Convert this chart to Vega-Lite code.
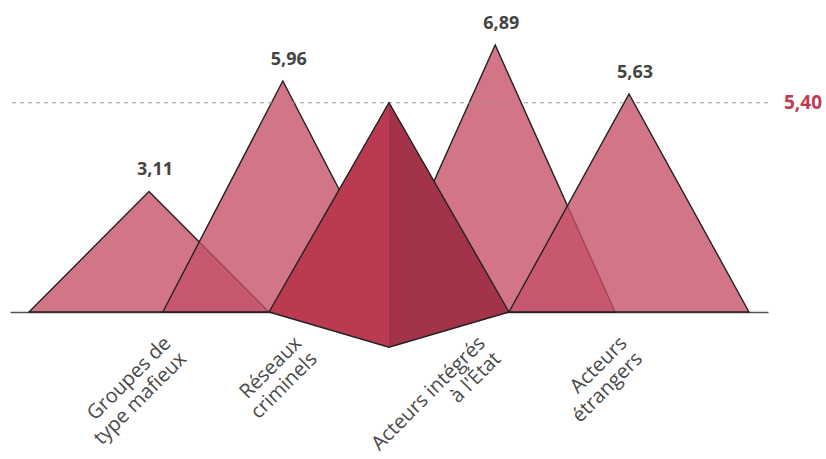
{
  "$schema": "https://vega.github.io/schema/vega-lite/v6.json",
  "autosize": {"type": "none"},
  "padding": {"left": 10, "top": 2, "right": 58, "bottom": 147},
  "width": 758,
  "height": 310,
  "config": {"view": {"stroke": null}, "font": "Open Sans"},
  "datasets": {
    "tri": [
      {"k": 1, "x": -3, "y": 0}, {"k": 1, "x": -2, "y": 3.11}, {"k": 1, "x": -1, "y": 0},
      {"k": 2, "x": -1.885, "y": 0}, {"k": 2, "x": -0.885, "y": 5.96}, {"k": 2, "x": 0.115, "y": 0},
      {"k": 3, "x": -0.115, "y": 0}, {"k": 3, "x": 0.885, "y": 6.89}, {"k": 3, "x": 1.885, "y": 0},
      {"k": 4, "x": 1, "y": 0}, {"k": 4, "x": 2, "y": 5.63}, {"k": 4, "x": 3, "y": 0}
    ],
    "cats": [
      {"cat": "Groupes de\ntype mafieux", "x": -2, "lx": -2.08, "v": 3.11, "lab": "3,11"},
      {"cat": "Réseaux\ncriminels", "x": -0.885, "lx": -0.99, "v": 5.96, "lab": "5,96"},
      {"cat": "Acteurs intégrés\nà l'État", "x": 0.885, "lx": 0.54, "v": 6.89, "lab": "6,89"},
      {"cat": "Acteurs\nétrangers", "x": 2, "lx": 1.72, "v": 5.63, "lab": "5,63"}
    ],
    "faces": [
      {"face": "left", "x": -1, "top": 0, "bot": 0},
      {"face": "left", "x": 0, "top": 5.4, "bot": -0.91},
      {"face": "right", "x": 0, "top": 5.4, "bot": -0.91},
      {"face": "right", "x": 1, "top": 0, "bot": 0}
    ],
    "edges": [
      {"s": "top", "x": -1, "y": 0}, {"s": "top", "x": 0, "y": 5.4}, {"s": "top", "x": 1, "y": 0},
      {"s": "bot", "x": -1, "y": 0}, {"s": "bot", "x": 0, "y": -0.91}, {"s": "bot", "x": 1, "y": 0}
    ],
    "avg": [{"v": 5.4, "lab": "5,40"}]
  },
  "layer": [
    {
      "data": {"name": "tri"},
      "mark": {"type": "area", "fill": "#C55065", "fillOpacity": 0.78, "stroke": "#222222", "strokeWidth": 1.4, "strokeJoin": "miter"},
      "encoding": {
        "x": {"field": "x", "type": "quantitative", "scale": {"domain": [-3.1583, 3.1583], "nice": false, "zero": false},
              "axis": {"domain": true, "domainColor": "#555555", "domainWidth": 1.5, "labels": false, "ticks": false, "grid": false, "title": null}},
        "y": {"field": "y", "type": "quantitative", "stack": null, "scale": {"domain": [0, 8], "nice": false}, "axis": null},
        "detail": {"field": "k", "type": "nominal"}
      }
    },
    {
      "data": {"name": "avg"},
      "mark": {"type": "rule", "color": "#999999", "strokeWidth": 1, "strokeDash": [4, 4]},
      "encoding": {"y": {"field": "v", "type": "quantitative"}}
    },
    {
      "data": {"name": "faces"},
      "mark": {"type": "area", "strokeWidth": 0},
      "encoding": {
        "x": {"field": "x", "type": "quantitative"},
        "y": {"field": "top", "type": "quantitative", "stack": null},
        "y2": {"field": "bot"},
        "detail": {"field": "face", "type": "nominal"},
        "color": {"field": "face", "type": "nominal", "scale": {"domain": ["left", "right"], "range": ["#B93A51", "#A23349"]}, "legend": null}
      }
    },
    {
      "data": {"name": "edges"},
      "mark": {"type": "line", "color": "#222222", "strokeWidth": 1.4, "strokeJoin": "miter"},
      "encoding": {
        "x": {"field": "x", "type": "quantitative"},
        "y": {"field": "y", "type": "quantitative"},
        "detail": {"field": "s", "type": "nominal"}
      }
    },
    {
      "data": {"name": "cats"},
      "mark": {"type": "text", "font": "Open Sans", "fontWeight": "bold", "fontSize": 18, "color": "#444444", "baseline": "alphabetic", "dy": -16, "dx": 6},
      "encoding": {
        "x": {"field": "x", "type": "quantitative"},
        "y": {"field": "v", "type": "quantitative"},
        "text": {"field": "lab"}
      }
    },
    {
      "data": {"name": "cats"},
      "mark": {"type": "text", "font": "Open Sans", "fontSize": 20, "color": "#4a4a4a", "angle": -45, "align": "right", "baseline": "top", "lineBreak": "\n", "lineHeight": 22, "dy": 30},
      "encoding": {
        "x": {"field": "lx", "type": "quantitative"},
        "y": {"datum": 0},
        "text": {"field": "cat"}
      }
    },
    {
      "data": {"name": "avg"},
      "mark": {"type": "text", "font": "Open Sans", "fontWeight": "bold", "fontSize": 19, "color": "#C0394F", "align": "left", "baseline": "middle", "dx": 16},
      "encoding": {
        "x": {"datum": 3.1583},
        "y": {"field": "v", "type": "quantitative"},
        "text": {"field": "lab"}
      }
    }
  ]
}
